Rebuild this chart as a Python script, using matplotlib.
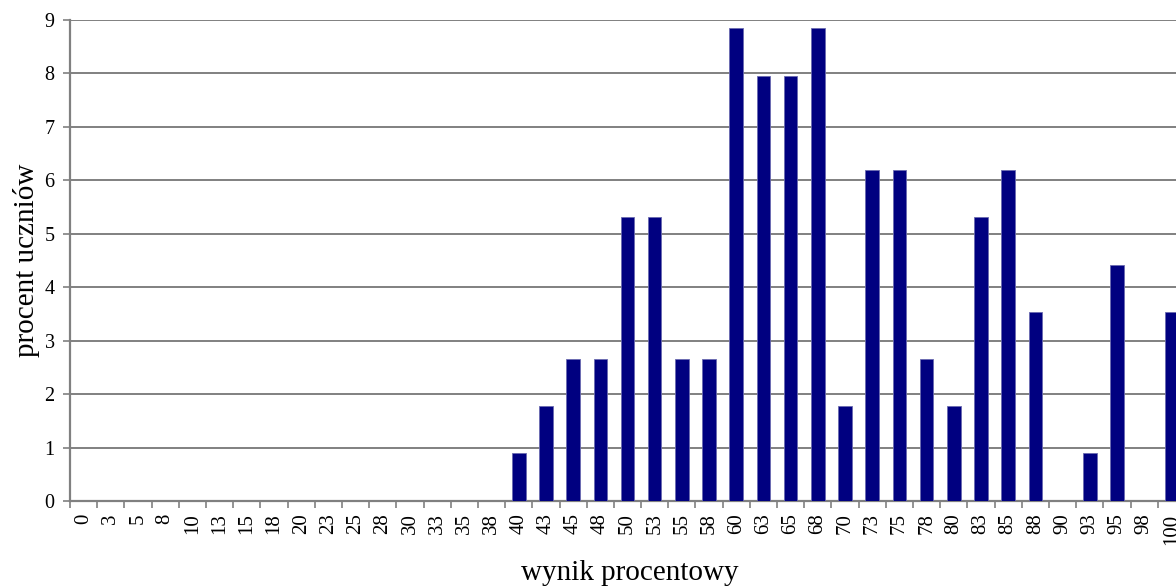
import numpy as np
import matplotlib.pyplot as plt

plt.rcParams['font.family'] = ['Liberation Serif', 'DejaVu Serif']

# dane
wyniki = ['0', '3', '5', '8', '10', '13', '15', '18', '20', '23', '25', '28', '30',
          '33', '35', '38', '40', '43', '45', '48', '50', '53', '55', '58', '60',
          '63', '65', '68', '70', '73', '75', '78', '80', '83', '85', '88', '90',
          '93', '95', '98', '100']
procent = [0, 0, 0, 0, 0, 0, 0, 0, 0, 0, 0, 0, 0, 0, 0, 0,
           0.89, 1.77, 2.65, 2.65, 5.31, 5.31, 2.65, 2.65, 8.85,
           7.96, 7.96, 8.85, 1.77, 6.19, 6.19, 2.65, 1.77, 5.31, 6.19, 3.54, 0,
           0.89, 4.42, 0, 3.54]

fig = plt.figure(figsize=(11.76, 5.87), dpi=100)
ax = fig.add_axes([70 / 1176, 86 / 587, 1115 / 1176, 481 / 587])

x = np.arange(len(wyniki))
ax.bar(x, procent, width=0.5, color='#000080', edgecolor='#6a6ab0', linewidth=0.6, zorder=3)

ax.set_xlim(-0.5, len(wyniki) - 0.5)
ax.set_ylim(0, 9)
ax.set_yticks(range(10))
ax.yaxis.grid(True, color='#808080', linewidth=1.4, zorder=0)

ax.set_xticks(x)
ax.set_xticklabels(wyniki, rotation=90, fontsize=15)
ax.set_xticks(np.arange(-0.5, len(wyniki)), minor=True)
ax.tick_params(axis='x', which='major', length=0, pad=9)
ax.tick_params(axis='x', which='minor', length=5, width=1.2, color='#808080')
ax.tick_params(axis='y', length=5, width=1.2, color='#808080', labelsize=14.5, pad=6)

for s in ['top', 'right']:
    ax.spines[s].set_visible(False)
for s in ['left', 'bottom']:
    ax.spines[s].set_color('#808080')
    ax.spines[s].set_linewidth(1.6)

ax.set_ylabel('procent uczniów', fontsize=21, labelpad=3)
fig.text(630 / 1176, 14 / 587, 'wynik procentowy', fontsize=21, ha='center', va='center')

fig.savefig('out.png', dpi=100)
